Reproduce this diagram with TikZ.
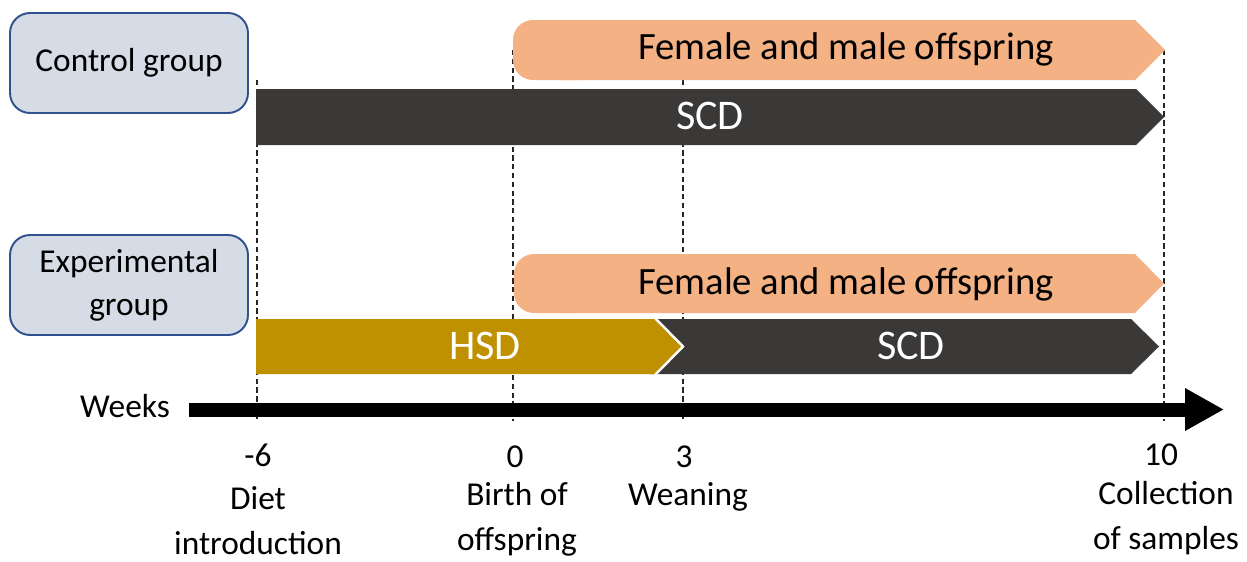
\documentclass[tikz,border=0pt]{standalone}
\usepackage{fontspec}
\setmainfont{Carlito}
\usepackage{tikz}
\usetikzlibrary{arrows.meta,positioning}
\usepackage{xcolor}
\definecolor{cGroup}{RGB}{214,220,229}
\definecolor{cGroupLine}{RGB}{47,82,143}
\definecolor{cOffspring}{RGB}{244,177,131}
\definecolor{cSCD}{RGB}{59,56,56}
\definecolor{cHSD}{RGB}{191,144,0}
\tikzset{
  basetext/.style={font=\fontsize{19}{25.5}\selectfont,align=center,inner sep=0pt},
  grpbox/.style={basetext,rectangle,rounded corners=0.4cm,draw=cGroupLine,
                 line width=1.1pt,fill=cGroup,minimum width=4.76cm,minimum height=2cm},
  barlabel/.style={basetext,font=\fontsize{24}{28}\selectfont,text=white},
  offlabel/.style={basetext,font=\fontsize{22}{26}\selectfont,text=black},
  ticklabel/.style={basetext},
  evtlabel/.style={basetext},
  guide/.style={draw=black!85,line width=0.8pt,dash pattern=on 3pt off 2pt},
  axisarr/.style={-{Triangle[length=0.78cm,width=0.8cm]},line width=0.28cm,black},
  chevline/.style={draw=white,line width=1.4pt}
}

\begin{document}
\begin{tikzpicture}[x=0.02cm,y=-0.02cm]
  \useasboundingbox (0,0) rectangle (1247,561);

  % dashed guides at the key weeks
  \foreach \x/\ytop in {257/80,513/50,683/80,1164/50}
    \draw[guide] (\x,\ytop) -- (\x,421);

  % groups
  \node[grpbox] (ctrl) at (129,63) {Control group};
  \node[grpbox] (expt) at (129,285) {Experimental\\[-1pt]group};

  % control group bars
  \fill[cOffspring,rounded corners=0.4cm] (513,20) rectangle (600,80);
  \fill[cOffspring] (560,20) -- (1135,20) -- (1165,50) -- (1135,80) -- (560,80) -- cycle;
  \node[offlabel] (offA) at (846,49) {Female and male offspring};
  \fill[cSCD] (256,89) -- (1136,89) -- (1164,117) -- (1136,145) -- (256,145) -- cycle;
  \node[barlabel] (scdA) at (710,116) {SCD};

  % experimental group bars
  \fill[cOffspring,rounded corners=0.4cm] (514,254) rectangle (600,313);
  \fill[cOffspring] (560,254) -- (1135,254) -- (1164,283.5) -- (1135,313) -- (560,313) -- cycle;
  \node[offlabel] (offB) at (846,284) {Female and male offspring};
  \fill[cSCD] (650,319) -- (1131,319) -- (1159,346.5) -- (1131,374) -- (650,374) -- cycle;
  \fill[cHSD] (256,319) -- (655,319) -- (683,346.5) -- (655,374) -- (256,374) -- cycle;
  \draw[chevline] (655,318) -- (683,346.5) -- (655,375);
  \node[barlabel] (hsd) at (485,346) {HSD};
  \node[barlabel] (scdB) at (911,346) {SCD};

  % time axis
  \coordinate (ax0) at (189,409.5);
  \coordinate (ax1) at (1224,409.5);
  \draw[axisarr] (ax0) -- (ax1);
  \node[basetext] (weeks) at (125,406) {Weeks};

  \node[ticklabel] (tm6) at (258,455) {-6};
  \node[ticklabel] (t0)  at (515,457) {0};
  \node[ticklabel] (t3)  at (684,457) {3};
  \node[ticklabel] (t10) at (1161,455) {10};

  \node[evtlabel] (diet)  at (258,521) {Diet\\introduction};
  \node[evtlabel] (birth) at (517,519) {Birth of\\offspring};
  \node[evtlabel] (wean)  at (688,497) {Weaning};
  \node[evtlabel] (coll)  at (1166,518) {Collection\\of samples};
\end{tikzpicture}
\end{document}
